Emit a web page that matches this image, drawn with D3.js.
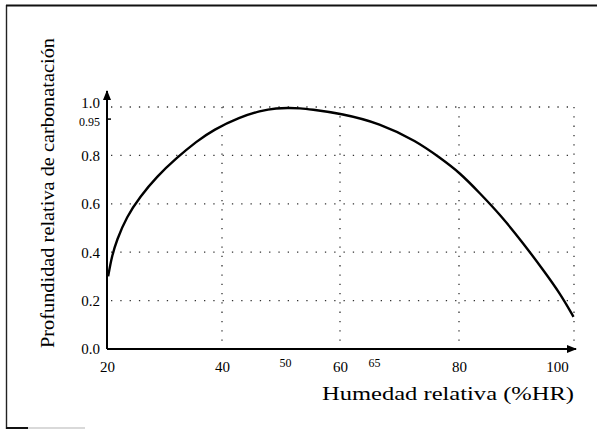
<!DOCTYPE html>
<html>
<head>
<meta charset="utf-8">
<script src="https://cdn.jsdelivr.net/npm/d3@7"></script>
<style>
  html, body { margin: 0; padding: 0; background: #fff; }
  svg { display: block; font-family: "Liberation Serif", "DejaVu Serif", serif; }
</style>
</head>
<body>
<svg id="chart" width="597" height="429"></svg>
<script>
// Relative carbonation depth versus relative humidity
const humidity = [20.2, 20.82, 21.69, 23.43, 25.74, 28.64, 32.12, 35.6, 38.49, 42.86, 46.03, 48.68, 50.91, 52.73, 54.55, 60.0, 66.06, 72.53, 76.65, 80.2, 84.29, 88.37, 93.12, 97.2, 100.62, 103.4];
const depth    = [0.30, 0.381, 0.450, 0.547, 0.629, 0.712, 0.790, 0.858, 0.906, 0.958, 0.984, 0.996, 0.996, 0.995, 0.991, 0.974, 0.933, 0.858, 0.790, 0.728, 0.643, 0.556, 0.437, 0.326, 0.230, 0.133];

const xTicks = [20, 40, 50, 60, 65, 80, 100];
const xSmallTicks = [50, 65];
const yTicks = [0.0, 0.2, 0.4, 0.6, 0.8, 0.95, 1.0];
const ySmallTicks = [0.95];
const gridY = [0.2, 0.4, 0.6, 0.8, 1.0];
const gridX = [40, 60, 80];
const xMin = 20, xMax = 103.5;

const xTitle = "Humedad relativa (%HR)";
const yTitle = "Profundidad relativa de carbonatación";

const svg = d3.select("#chart");

// The horizontal axis is drawn unevenly spaced, so the scale is piecewise linear
const x = d3.scaleLinear()
  .domain([20, 40, 50, 60, 65, 80, 100, xMax])
  .range([107, 222, 285, 340, 374, 459, 557, 574]);
const y = d3.scaleLinear().domain([0, 1]).range([349, 107]);

// page frame
svg.append("line").attr("x1", 6.5).attr("x2", 6.5).attr("y1", 5).attr("y2", 429)
  .attr("stroke", "#222").attr("stroke-width", 1.4);
svg.append("line").attr("x1", 6).attr("x2", 597).attr("y1", 5.5).attr("y2", 5.5)
  .attr("stroke", "#111").attr("stroke-width", 2);
svg.append("line").attr("x1", 6).attr("x2", 28).attr("y1", 428).attr("y2", 428)
  .attr("stroke", "#111").attr("stroke-width", 2);
svg.append("line").attr("x1", 28).attr("x2", 85).attr("y1", 428).attr("y2", 428)
  .attr("stroke", "#ccc").attr("stroke-width", 1.5);

// dotted guide lines
const grid = svg.append("g").attr("stroke", "#333").attr("stroke-width", 1.3)
  .attr("stroke-dasharray", "1.3,8");
grid.selectAll("line.h").data(gridY).join("line").attr("class", "h")
  .attr("x1", x(xMin) + 4).attr("x2", x(xMax))
  .attr("y1", d => y(d)).attr("y2", d => y(d));
grid.selectAll("line.v").data(gridX.concat([xMax])).join("line").attr("class", "v")
  .attr("x1", d => x(d)).attr("x2", d => x(d))
  .attr("y1", y(1.0)).attr("y2", y(0) - 4);

// arrowhead
svg.append("defs").append("marker")
  .attr("id", "arrow").attr("viewBox", "0 0 10 10")
  .attr("refX", 9).attr("refY", 5)
  .attr("markerWidth", 6).attr("markerHeight", 5)
  .attr("markerUnits", "strokeWidth")
  .attr("orient", "auto")
  .append("path").attr("d", "M0,1 L10,5 L0,9 Z").attr("fill", "#000");

// axes lines with arrows
svg.append("line").attr("x1", x(xMin)).attr("x2", x(xMin))
  .attr("y1", y(0)).attr("y2", 91)
  .attr("stroke", "#000").attr("stroke-width", 2).attr("marker-end", "url(#arrow)");
svg.append("line").attr("x1", x(xMin)).attr("x2", x(xMax) + 2)
  .attr("y1", y(0)).attr("y2", y(0))
  .attr("stroke", "#000").attr("stroke-width", 2).attr("marker-end", "url(#arrow)");

// small tick at 0.95
svg.append("line").attr("x1", x(xMin)).attr("x2", x(xMin) + 4)
  .attr("y1", y(0.95)).attr("y2", y(0.95)).attr("stroke", "#000").attr("stroke-width", 1.5);

// y axis labels
const yAxis = d3.axisLeft(y).tickValues(yTicks).tickSize(0).tickPadding(7)
  .tickFormat(d => ySmallTicks.includes(d) ? d3.format(".2f")(d) : d3.format(".1f")(d));
const gy = svg.append("g").attr("transform", `translate(${x(xMin)},0)`).call(yAxis);
gy.select(".domain").remove();
gy.selectAll("text")
  .attr("font-family", "Liberation Serif, serif")
  .attr("fill", "#000")
  .attr("font-size", d => ySmallTicks.includes(d) ? 12 : 15)
  .attr("dy", d => d === 1.0 ? "0.05em" : (ySmallTicks.includes(d) ? "0.5em" : "0.32em"));

// x axis labels
const xAxis = d3.axisBottom(x).tickValues(xTicks).tickSize(0).tickPadding(12)
  .tickFormat(d3.format("d"));
const gx = svg.append("g").attr("transform", `translate(0,${y(0)})`).call(xAxis);
gx.select(".domain").remove();
gx.selectAll("text")
  .attr("font-family", "Liberation Serif, serif")
  .attr("fill", "#000")
  .attr("font-size", d => xSmallTicks.includes(d) ? 12 : 15)
  .attr("y", d => xSmallTicks.includes(d) ? 9 : 12);

// curve (B-spline smooths the hand-drawn outline)
const line = d3.line().x((d, i) => x(humidity[i])).y(d => y(d)).curve(d3.curveBasis);
svg.append("path").datum(depth).attr("d", line)
  .attr("fill", "none").attr("stroke", "#000").attr("stroke-width", 2.4);

// titles
svg.append("text").attr("x", 574).attr("y", 400).attr("text-anchor", "end")
  .attr("font-size", 19).attr("fill", "#000")
  .attr("textLength", 252).attr("lengthAdjust", "spacingAndGlyphs")
  .text(xTitle);
svg.append("text")
  .attr("transform", "translate(54,348) rotate(-90)")
  .attr("text-anchor", "start").attr("font-size", 19).attr("fill", "#000")
  .attr("textLength", 310).attr("lengthAdjust", "spacingAndGlyphs")
  .text(yTitle);
</script>
</body>
</html>
